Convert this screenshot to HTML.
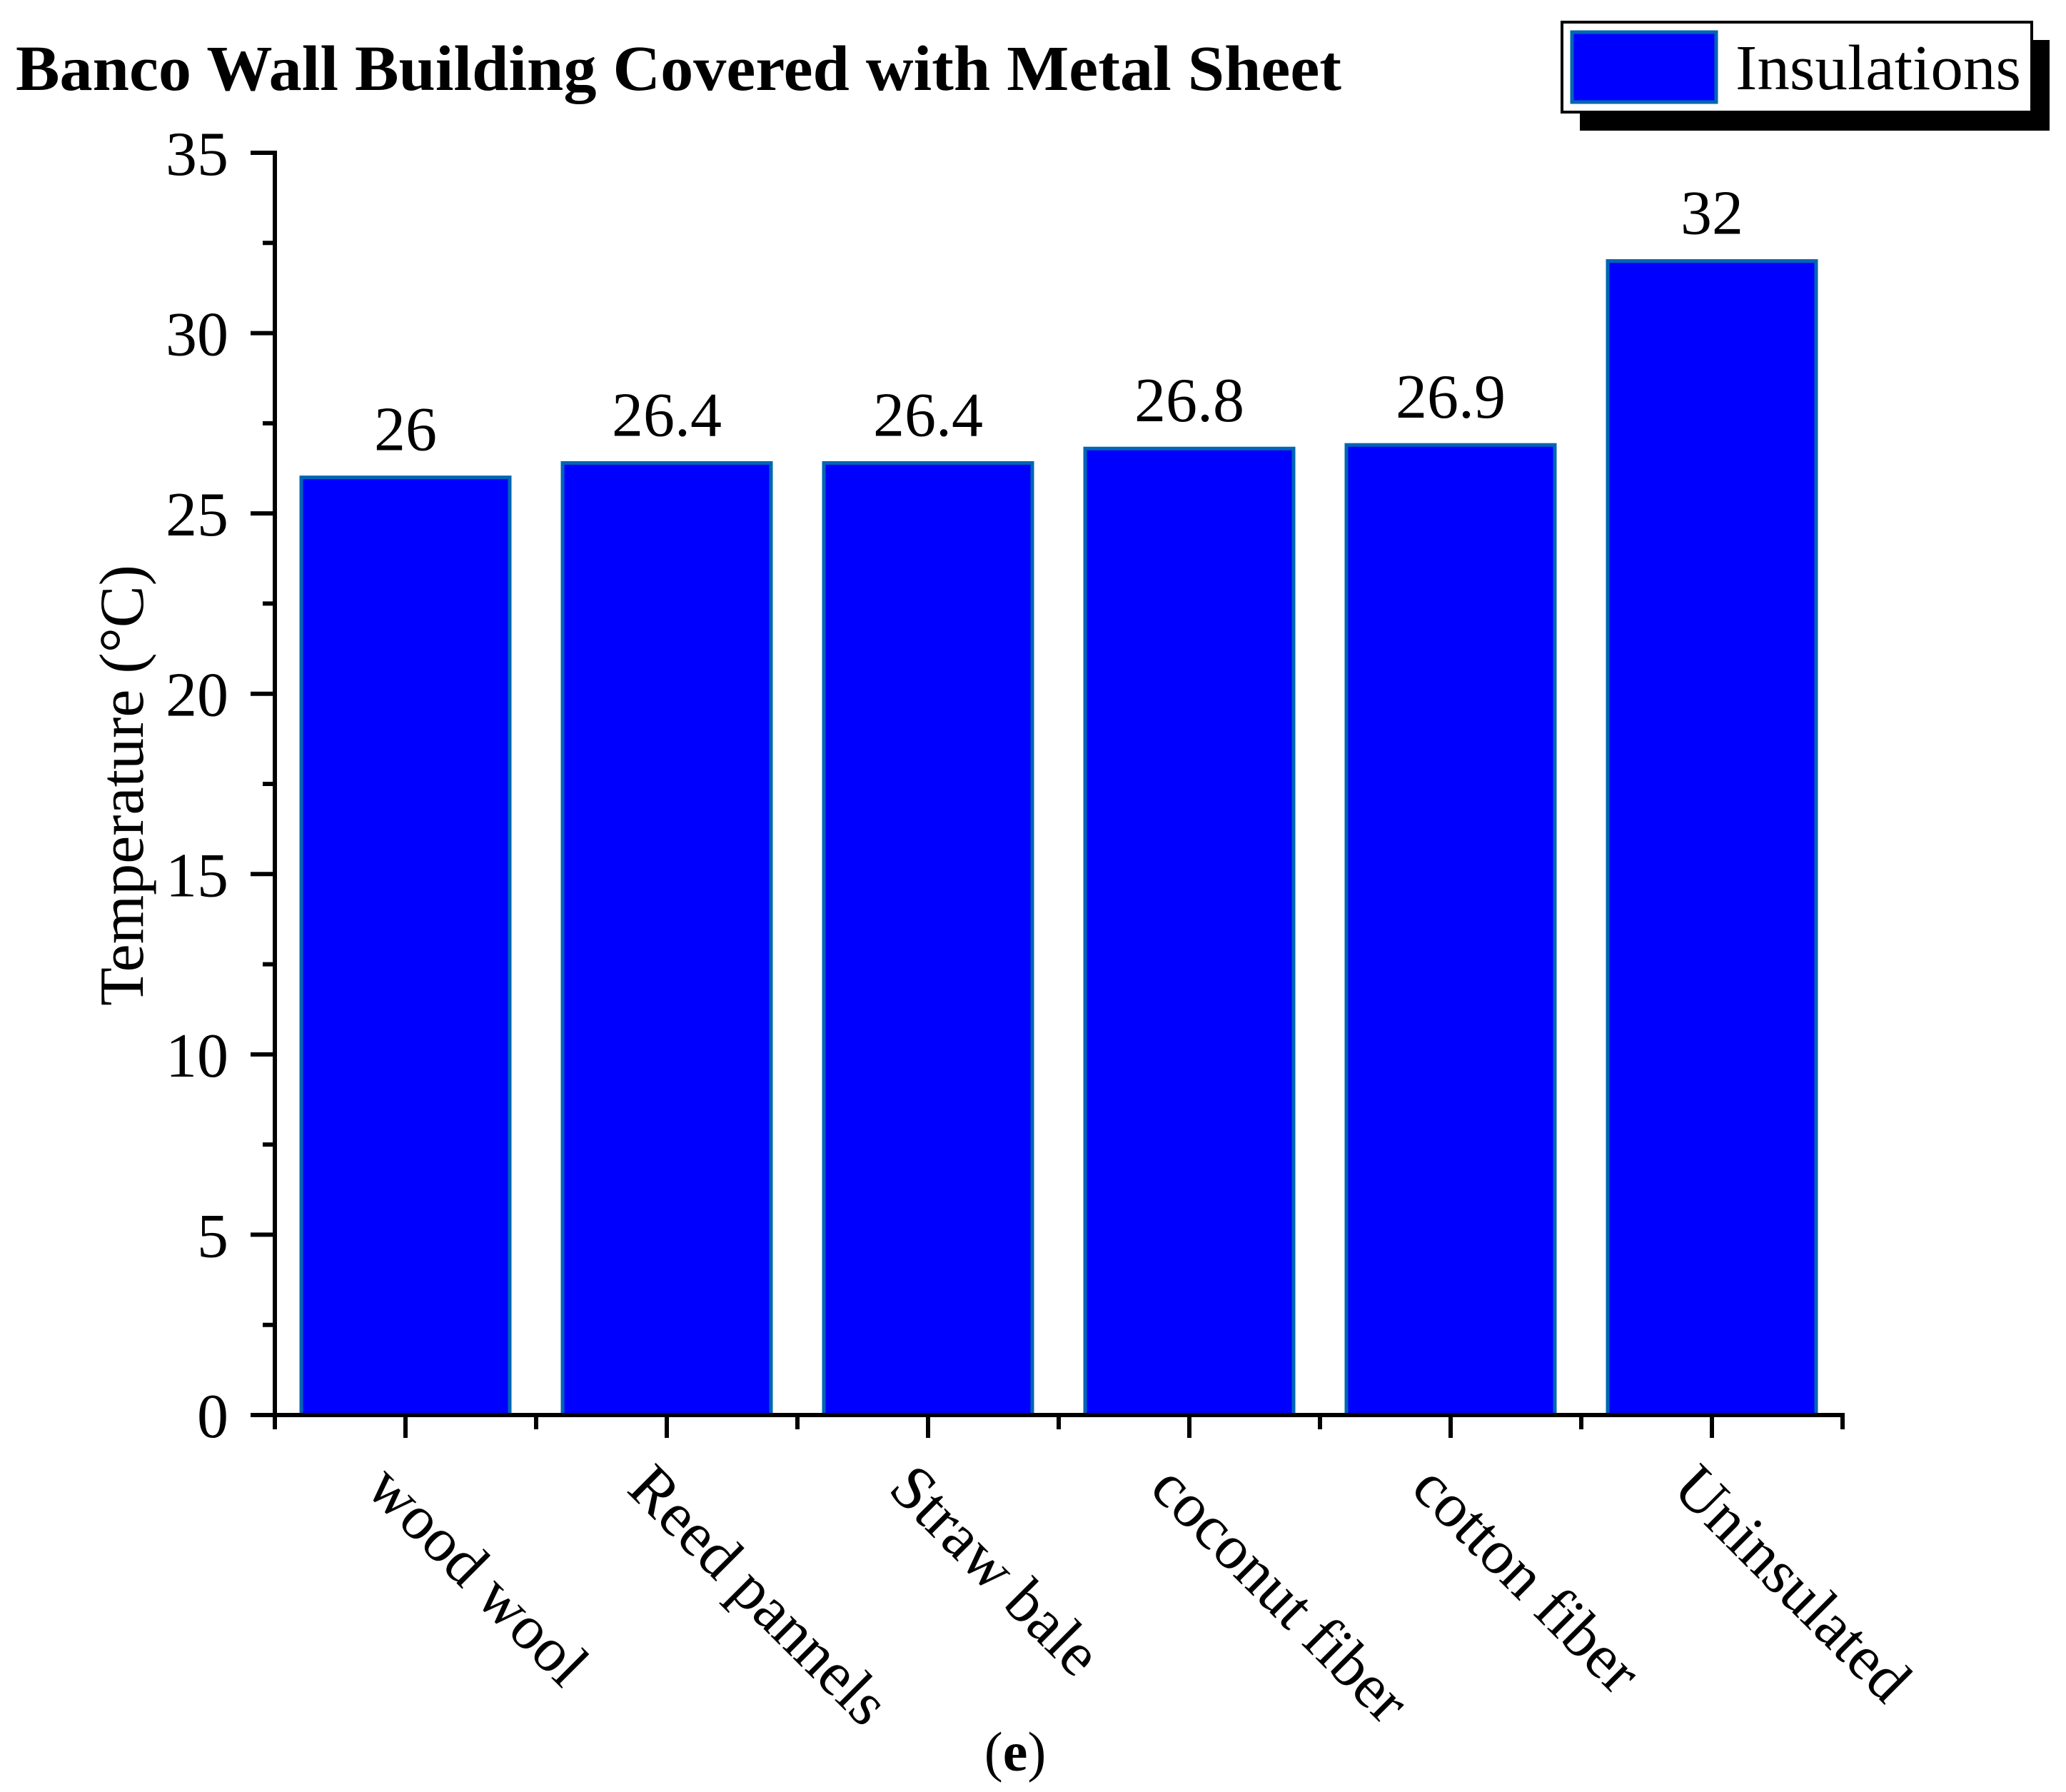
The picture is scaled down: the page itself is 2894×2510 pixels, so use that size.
<!DOCTYPE html>
<html><head><meta charset="utf-8"><style>
html,body{margin:0;padding:0;background:#fff}
svg{display:block;font-family:"Liberation Serif",serif}
</style></head><body>
<svg id="chart" width="2894" height="2510" viewBox="0 0 2894 2510" xmlns="http://www.w3.org/2000/svg">
<text x="22" y="126" font-size="90" font-weight="bold" textLength="1857" lengthAdjust="spacingAndGlyphs">Banco Wall Building Covered with Metal Sheet</text>
<g>
<rect x="2213" y="56" width="658" height="127" fill="#000"/>
<rect x="2188" y="31" width="658" height="126" fill="#fff" stroke="#000" stroke-width="4"/>
<rect x="2202" y="45" width="202" height="98" fill="#0000ff" stroke="#0066b3" stroke-width="5"/>
<text x="2431" y="125" font-size="90" textLength="400" lengthAdjust="spacingAndGlyphs">Insulations</text>
</g>
<g id="bars"></g>
<g id="axes"></g>
<text transform="translate(200,1100) rotate(-90)" text-anchor="middle" font-size="88">Temperature (°C)</text>
<text x="1422" y="2480" text-anchor="middle" font-size="78">(<tspan font-weight="bold">e</tspan>)</text>
</svg>
<script>
const categories = ["wood wool","Reed pannels","Straw bale","coconut fiber","cotton fiber","Uninsulated"];
const values = [26, 26.4, 26.4, 26.8, 26.9, 32];
const valueLabels = ["26","26.4","26.4","26.8","26.9","32"];
const yTicks = [0,5,10,15,20,25,30,35];

const NS = "http://www.w3.org/2000/svg";
const X0 = 385, STEP = 366, Y0 = 1982, YTOP = 214, YMAX = 35;
const xPos = i => X0 + STEP * (i + 0.5);
const yPos = v => Y0 - (Y0 - YTOP) * v / YMAX;
function mk(tag, attrs, parent) {
  const e = document.createElementNS(NS, tag);
  for (const k in attrs) e.setAttribute(k, attrs[k]);
  parent.appendChild(e);
  return e;
}
const bars = document.getElementById('bars');
const axes = document.getElementById('axes');
const BW = 292;
values.forEach((v, i) => {
  const r = mk('rect', {x: xPos(i) - BW/2, y: yPos(v), width: BW, height: Y0 - yPos(v), fill: '#0000ff', stroke: '#0066b3', 'stroke-width': 5}, bars);
  
  
  const t = mk('text', {x: xPos(i), y: yPos(v) - 38, 'text-anchor': 'middle', 'font-size': 88}, bars);
  t.textContent = valueLabels[i];
  
  
  const c = mk('text', {transform: 'translate(' + (xPos(i) - 58) + ',2088) rotate(45)', 'font-size': 88}, axes);
  c.textContent = categories[i];
  
  
  const tk = mk('line', {x1: xPos(i), x2: xPos(i), y1: Y0, y2: Y0 + 32, stroke: '#000', 'stroke-width': 6}, axes);
  
  
});
for (let k = 0; k <= categories.length; k++) {
  const m = mk('line', {x1: X0 + STEP*k, x2: X0 + STEP*k, y1: Y0, y2: Y0 + 20, stroke: '#000', 'stroke-width': 6}, axes);
  
  
}
yTicks.forEach((v, i) => {
  const l = mk('line', {x1: X0 - 34, x2: X0, y1: yPos(v), y2: yPos(v), stroke: '#000', 'stroke-width': 6}, axes);
  
  
  const t = mk('text', {x: 320, y: yPos(v) + 31, 'text-anchor': 'end', 'font-size': 88}, axes);
  t.textContent = String(v);
  
  
  if (i < yTicks.length - 1) {
    const mv = (v + yTicks[i+1]) / 2;
    const m = mk('line', {x1: X0 - 17, x2: X0, y1: yPos(mv), y2: yPos(mv), stroke: '#000', 'stroke-width': 6}, axes);
    
    
  }
});
const ya = mk('line', {x1: X0, x2: X0, y1: YTOP - 3, y2: Y0 + 3, stroke: '#000', 'stroke-width': 6}, axes);


const xa = mk('line', {x1: X0 - 3, x2: X0 + STEP*categories.length + 3, y1: Y0, y2: Y0, stroke: '#000', 'stroke-width': 6}, axes);


</script>
</body></html>
